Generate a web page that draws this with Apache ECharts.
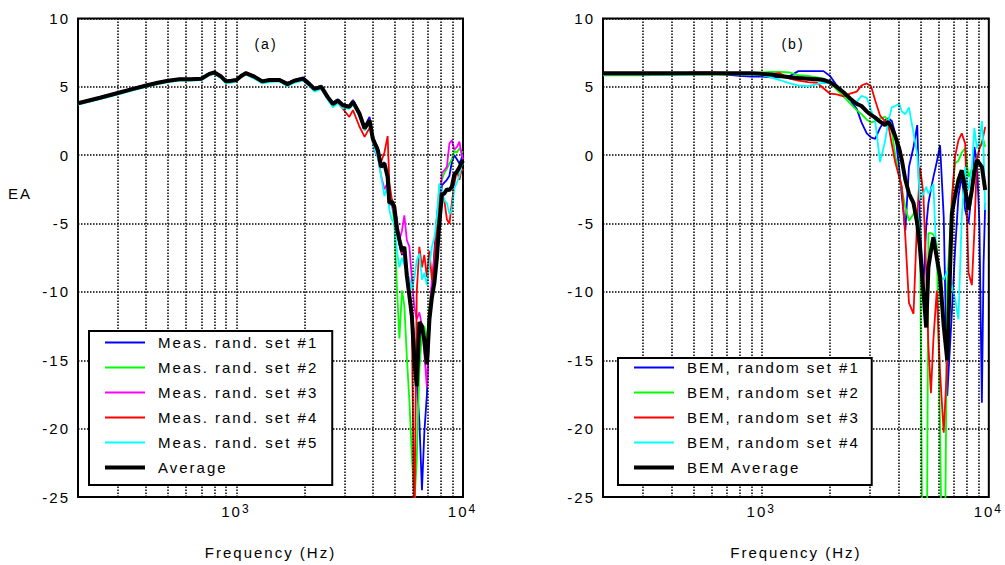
<!DOCTYPE html>
<html>
<head>
<meta charset="utf-8">
<script src="https://cdn.jsdelivr.net/npm/echarts@6/dist/echarts.min.js"></script>
<style>
html,body{margin:0;padding:0;background:#fff;}
#chart{width:1005px;height:565px;}
#chart text{letter-spacing:2px;}
</style>
</head>
<body>
<div id="chart"></div>
<script>
// ---------- Panel (a): measured ----------
const freqA = [200,250,300,350,400,450,500,560,630,700,760,800,850,900,950,1000,1050,1100,1200,1300,1400,1550,1680,1800,1970,2100,2210,2370,2530,2670,2800,2950,3150,3270,3490,3680,3870,4000,4100,4210,4350,4500,4650,4730,4850,4980,5100,5240,5380,5510,5650,5800,5950,6100,6250,6420,6590,6750,6930,7110,7290,7480,7670,7860,8070,8270,8490,8710,8930,9160,9400,9640,9820,10000];
const measSet1 = [3.8,4.2,4.55,4.85,5.1,5.3,5.45,5.55,5.55,5.6, 5.95,6.05,5.8,5.4,5.45,5.5,5.85,6.05,5.8,5.45, 5.55,5.55,5.3,5.5,5.7,5.3,4.9,5.1,4.3,3.85, 4.1,3.7,3.6,4.05,3.15,2.1,2.8,1.3,0.9,0.2, -0.9,-0.5,-1.8,-3.7,-3.2,-4.0,-5.2,-6.5,-7.3,-6.9, -8.6,-10.0,-11.5,-13.5,-16.5,-19.5,-24.5,-20.3,-17.5,-12.5, -10.0,-7.0,-4.6,-4.5,-2.2,-2.0,-1.8,-1.5,-0.5,0.0, -0.3,-0.6,-0.3,0.1];
const measSet2 = [3.75,4.15,4.5,4.8,5.05,5.25,5.4,5.5,5.5,5.55, 5.9,6.0,5.75,5.35,5.4,5.45,5.75,5.95,5.7,5.35, 5.45,5.45,5.15,5.4,5.55,5.15,4.8,4.95,4.2,3.7, 3.95,3.6,3.5,3.85,3.0,1.9,2.5,1.1,0.6,0.2, -0.8,-0.8,-1.7,-3.6,-3.5,-5.0,-9.4,-13.4,-9.9,-11.0, -14.7,-18.0,-22.0,-25.5,-22.3,-15.7,-13.0,-12.5,-13.5,-11.0, -9.5,-9.1,-5.0,-2.3,-1.8,-1.3,-1.0,-0.6,-0.3,0.3, 0.2,0.5,0.3,0.2];
const measSet3 = [3.85,4.25,4.6,4.9,5.15,5.35,5.5,5.6,5.6,5.65, 6.0,6.1,5.85,5.45,5.5,5.55,5.85,6.05,5.8,5.45, 5.55,5.55,5.25,5.5,5.65,5.25,4.9,5.05,4.3,3.8, 4.05,3.7,3.6,3.95,3.1,2.0,2.6,0.9,0.2,-0.1, -1.5,-2.5,-2.0,-3.2,-3.6,-4.5,-4.5,-6.2,-5.5,-4.4, -6.2,-6.7,-9.1,-11.1,-12.0,-11.5,-12.5,-14.5,-17.0,-11.6, -9.1,-7.5,-5.5,-5.0,-1.3,-1.1,-0.85,0.85,1.1,0.4, 0.6,1.0,0.2,-0.3];
const measSet4 = [3.8,4.2,4.55,4.85,5.1,5.3,5.45,5.55,5.55,5.6, 5.95,6.05,5.8,5.45,5.5,5.55,5.85,6.05,5.8,5.45, 5.5,5.55,5.2,5.45,5.6,5.2,4.85,5.0,4.2,3.6, 3.85,3.4,2.8,3.3,2.1,1.34,2.0,1.5,0.9,0.6, -0.5,0.2,1.4,-2.0,-3.2,-3.8,-5.5,-6.0,-7.2,-7.0, -9.0,-10.5,-12.5,-28.0,-10.0,-6.7,-8.2,-7.3,-8.9,-7.0, -9.1,-8.0,-4.5,-2.8,-3.0,-3.3,-4.7,-5.0,-3.5,-2.1, -1.1,-1.8,-1.2,-1.0];
const measSet5 = [3.7,4.1,4.45,4.75,5.0,5.2,5.35,5.45,5.45,5.5, 5.85,5.95,5.65,5.25,5.3,5.4,5.7,5.9,5.6,5.25, 5.35,5.4,5.05,5.3,5.45,5.05,4.65,4.85,4.05,3.5, 3.8,3.45,3.4,3.7,2.85,1.8,2.4,0.9,0.3,-0.2, -1.5,-3.0,-2.2,-4.0,-4.7,-5.0,-6.9,-8.2,-7.5,-8.0, -8.5,-9.0,-9.8,-9.0,-7.7,-7.2,-9.1,-8.6,-9.5,-8.0, -6.7,-6.0,-4.5,-2.1,-2.5,-3.3,-3.5,-4.3,-4.0,-2.4, -2.0,-1.5,-0.8,-0.6];
const measAverage = [3.8,4.2,4.55,4.85,5.1,5.3,5.45,5.55,5.55,5.6, 5.95,6.05,5.8,5.4,5.45,5.5,5.8,6.0,5.75,5.4, 5.5,5.5,5.2,5.45,5.6,5.2,4.85,5.0,4.25,3.75, 4.0,3.65,3.55,3.9,3.05,1.95,2.55,1.2,0.8,0.35, -0.85,-0.6,-1.6,-3.5,-3.4,-3.8,-5.3,-6.2,-7.0,-6.7, -8.8,-10.3,-11.8,-15.0,-16.9,-12.2,-12.5,-13.5,-15.3,-12.0, -10.4,-9.3,-7.5,-5.0,-2.9,-2.8,-2.5,-2.55,-2.3,-1.4, -1.2,-0.9,-0.6,-0.4];

// ---------- Panel (b): BEM ----------
const freqB = [200,300,400,500,600,700,800,900,1000,1100,1200,1330,1450,1600,1750,1870,2000,2140,2290,2450,2620,2750,2900,3030,3160,3320,3490,3610,3740,3870,4030,4140,4290,4450,4660,4840,4980,5150,5300,5420,5560,5700,5900,6100,6330,6560,6870,7100,7350,7600,7870,8140,8420,8640,8860,9090,9320,9480,9640];
const bemSet1 = [5.9,5.9,5.9,5.95,5.95,5.9,5.8,5.75,5.75,5.7, 5.7,5.8,6.15,6.15,6.15,6.15,5.8,5.1,4.6,4.0, 3.4,2.4,1.6,1.3,1.2,2.0,2.55,2.7,2.5,1.6, -1.0,-3.0,-5.5,-0.85,0.6,2.2,-5.2,-9.6,-5.2,-3.5, -2.5,-1.6,-0.5,0.73,-4.5,-17.6,-11.6,-7.0,-3.0,-1.5, -4.0,-5.0,-2.5,0.6,-0.5,-5.0,-18.1,-8.0,-3.5];
const bemSet2 = [5.85,5.85,5.9,5.9,5.9,5.9,5.95,6.0,6.05,6.1, 6.1,6.05,5.85,5.8,5.7,5.6,5.35,4.8,4.3,3.8, 3.3,3.0,2.6,2.4,2.5,2.7,2.8,2.5,1.8,0.0, -1.5,-2.5,-3.8,-4.8,-4.3,-4.0,-5.7,-40,-40,-5.7, -5.7,-5.8,-6.5,-20,-40,-9.4,-3.3,-0.6,-0.4,0.2, 0.5,-1.6,-1.0,-0.85,-0.3,0.5,1.0,1.1,0.6];
const bemSet3 = [5.9,5.9,5.95,6.05,6.05,6.0,6.0,5.95,5.9,5.95, 6.0,5.6,5.45,5.35,5.3,4.9,4.5,4.45,4.3,4.5, 4.65,5.1,5.25,5.05,4.0,2.9,2.5,2.2,0.8,-0.5, -1.6,-2.3,-6.0,-10.8,-11.6,-4.5,-0.9,-2.8,-8.6,-14.0, -17.4,-13.5,-9.9,-15.9,-20.3,-15.0,-3.3,-0.1,1.1,1.6, 0.85,-8.6,-9.5,-5.5,-0.36,0.5,0.85,1.5,2.07];
const bemSet4 = [5.9,5.9,5.9,5.9,5.95,5.95,5.9,5.9,5.85,5.7, 5.5,5.25,5.1,5.05,5.2,5.3,5.25,5.0,4.5,4.0, 3.9,4.35,4.2,3.3,2.5,-0.5,1.0,2.5,3.5,3.6, 3.77,3.2,3.0,3.5,1.6,0.1,-3.3,-2.8,-2.3,-2.8, -2.5,-2.1,-8.2,-8.8,-9.1,-8.5,-9.5,-10.5,-12.0,-4.5, -0.85,-2.55,-1.0,2.0,0.5,1.0,2.5,0.5,-4.0];
const bemAverage = [6.0,6.0,6.0,6.0,6.0,6.0,6.0,6.0,5.95,5.9, 5.8,5.7,5.65,5.6,5.55,5.5,5.35,5.0,4.6,4.15, 3.75,3.6,3.2,2.95,2.75,2.45,2.2,2.45,2.0,1.4, 0.5,-0.36,-1.8,-2.8,-3.5,-5.0,-6.9,-10.0,-12.6,-8.2, -7.0,-6.0,-7.5,-8.9,-12.5,-15.0,-4.3,-3.0,-1.8,-1.1, -2.5,-4.0,-2.55,-1.2,-0.36,-0.6,-0.85,-1.7,-2.55];

// ---------- Labels / ticks ----------
const namesA = ['Meas. rand. set #1','Meas. rand. set #2','Meas. rand. set #3','Meas. rand. set #4','Meas. rand. set #5','Average'];
const namesB = ['BEM, random set #1','BEM, random set #2','BEM, random set #3','BEM, random set #4','BEM Average'];
const gridFreqs = [300,400,500,600,700,800,900,1000,2000,3000,4000,5000,6000,7000,8000,9000];
const xTickExps = [3,4];
const panelTitles = ['(a)','(b)'];
const xName = 'Frequency (Hz)';
const yName = 'EA';

const valuesA = [measSet1, measSet2, measSet3, measSet4, measSet5, measAverage];
const valuesB = [bemSet1, bemSet2, bemSet3, bemSet4, bemAverage];
const colorsA = ['#0000ff','#00ff00','#ff00ff','#ff0000','#00ffff','#000000'];
const colorsB = ['#0000ff','#00ff00','#ff0000','#00ffff','#000000'];

const FONT = 'Liberation Sans, Arial, Helvetica, sans-serif';

function lineSeries(name, freqs, vals, idx, color, width) {
  return {
    type: 'line', name: name, xAxisIndex: idx, yAxisIndex: idx,
    data: freqs.map(function (f, i) { return [f, vals[i]]; }),
    showSymbol: false, symbol: 'none', clip: true, z: 3,
    lineStyle: { color: color, width: width },
    itemStyle: { color: color },
    emphasis: { disabled: true },
    animation: false
  };
}
function gridSeries(idx) {
  return {
    type: 'line', name: '_grid' + idx, xAxisIndex: idx, yAxisIndex: idx, data: [],
    silent: true, z: 1, animation: false,
    markLine: {
      silent: true, symbol: ['none','none'], label: { show: false }, animation: false,
      lineStyle: { color: '#000', type: [1.5, 1.5], width: 1.5 },
      emphasis: { disabled: true },
      data: gridFreqs.map(function (f) { return { xAxis: f }; })
    }
  };
}
function xAxisDef(idx) {
  return {
    type: 'log', logBase: 10, gridIndex: idx, min: 200, max: 10000,
    axisLine: { show: false }, axisTick: { show: false }, splitLine: { show: false },
    name: xName, nameLocation: 'middle', nameGap: 48,
    nameTextStyle: { color: '#000', fontSize: 15, fontFamily: FONT },
    axisLabel: {
      margin: 6, showMinLabel: true, showMaxLabel: true,
      formatter: function (v) {
        const e = Math.log10(v), r = Math.round(e);
        if (Math.abs(e - r) < 1e-6 && xTickExps.indexOf(r) >= 0) return '{b|10}{s|' + r + '}';
        return '';
      },
      rich: {
        b: { fontSize: 15, color: '#000', fontFamily: FONT, verticalAlign: 'bottom', lineHeight: 16, padding: [13, 0, 0, 0] },
        s: { fontSize: 12, color: '#000', fontFamily: FONT, verticalAlign: 'top', lineHeight: 12, padding: [0, 0, 0, 3] }
      }
    }
  };
}
function yAxisDef(idx) {
  return {
    type: 'value', gridIndex: idx, min: -25, max: 10, interval: 5,
    axisLine: { show: false }, axisTick: { show: false },
    splitLine: { show: true, lineStyle: { color: '#000', type: [1.5, 1.5], width: 1.5 } },
    axisLabel: { color: '#000', fontSize: 15, fontFamily: FONT, margin: 8 }
  };
}
function legendDef(names, left, top, padding) {
  return {
    show: true, orient: 'vertical', left: left, top: top, padding: padding,
    itemWidth: 40, itemHeight: 14, itemGap: 10, selectedMode: false,
    backgroundColor: '#fff', borderColor: '#000', borderWidth: 2, borderRadius: 0,
    itemStyle: { opacity: 0, borderWidth: 0 },
    lineStyle: { width: 'inherit', opacity: 1 },
    textStyle: { color: '#000', fontSize: 15, fontFamily: FONT, lineHeight: 15, padding: [0, 0, 0, 8] },
    data: names, z: 10
  };
}

const series = [gridSeries(0), gridSeries(1)];
namesA.forEach(function (n, i) {
  series.push(lineSeries(n, freqA, valuesA[i], 0, colorsA[i], i === namesA.length - 1 ? 4 : 1.8));
});
namesB.forEach(function (n, i) {
  series.push(lineSeries(n, freqB, valuesB[i], 1, colorsB[i], i === namesB.length - 1 ? 4 : 1.8));
});

const chart = echarts.init(document.getElementById('chart'), null, { renderer: 'svg' });
chart.setOption({
  backgroundColor: '#fff',
  animation: false,
  textStyle: { fontFamily: FONT },
  grid: [
    { left: 78, top: 18.5, width: 385, height: 479, show: true, borderColor: '#000', borderWidth: 2, backgroundColor: 'transparent', containLabel: false },
    { left: 603, top: 18.5, width: 386, height: 479, show: true, borderColor: '#000', borderWidth: 2, backgroundColor: 'transparent', containLabel: false }
  ],
  xAxis: [xAxisDef(0), xAxisDef(1)],
  yAxis: [yAxisDef(0), yAxisDef(1)],
  legend: [
    legendDef(namesA, 89, 331, [4, 50, 10, 14]),
    legendDef(namesB, 618, 358, [2, 48, 10, 14])
  ],
  graphic: [
    { type: 'text', x: 266, y: 44, z: 20, style: { text: panelTitles[0], fill: '#000', font: '14px ' + FONT, textAlign: 'center', textVerticalAlign: 'middle' } },
    { type: 'text', x: 793, y: 44, z: 20, style: { text: panelTitles[1], fill: '#000', font: '14px ' + FONT, textAlign: 'center', textVerticalAlign: 'middle' } },
    { type: 'text', x: 20, y: 193, z: 20, style: { text: yName, fill: '#000', font: '15px ' + FONT, textAlign: 'center', textVerticalAlign: 'middle' } }
  ],
  series: series
});
</script>
</body>
</html>
